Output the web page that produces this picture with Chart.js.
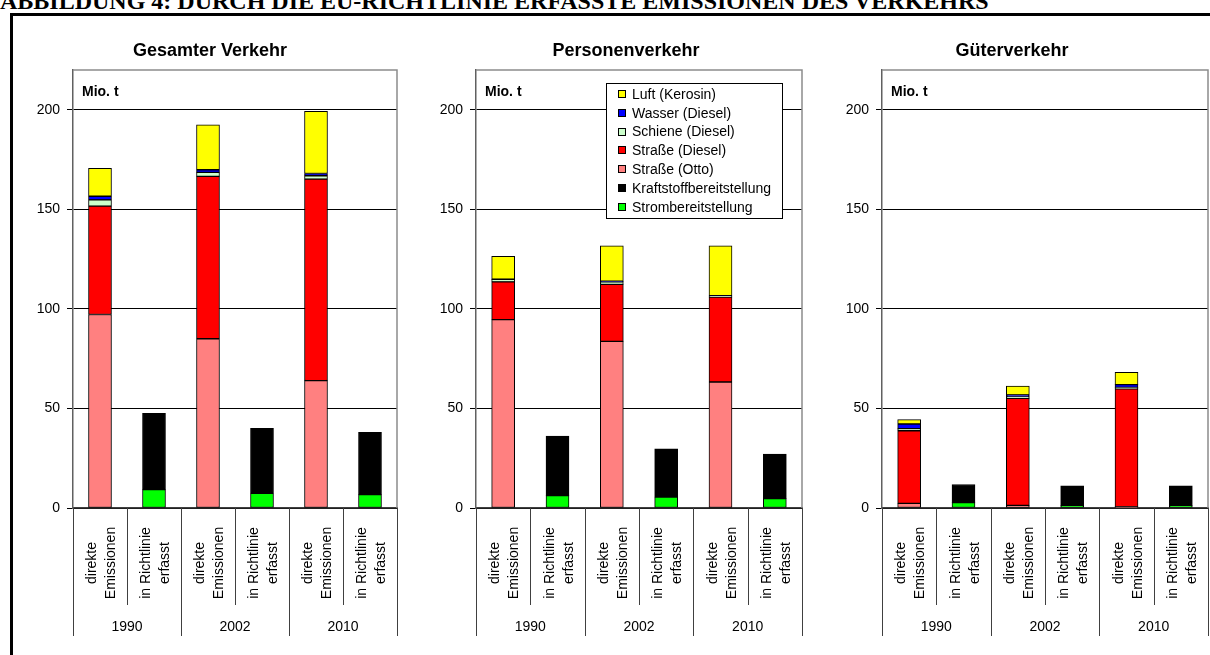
<!DOCTYPE html>
<html lang="de">
<head>
<meta charset="utf-8">
<title>Durch die EU-Richtlinie erfasste Emissionen des Verkehrs</title>
<script src="https://cdn.jsdelivr.net/npm/chart.js@4.4.1/dist/chart.umd.min.js"></script>
<style>
	html, body { margin: 0; padding: 0; background: #fff; }
	body { width: 1210px; height: 655px; position: relative; overflow: hidden; }
	#heading { position: absolute; left: 0; top: -11px; font: bold 24px 'Liberation Serif', 'Times New Roman', serif; line-height: 24px; white-space: nowrap; }
	#frame { position: absolute; left: 10px; top: 13px; width: 1220px; height: 700px; border: 3px solid #000; box-sizing: border-box; }
	canvas { position: absolute; top: 0; }
</style>
</head>
<body>
<div id="heading">ABBILDUNG 4: DURCH DIE EU-RICHTLINIE ERFASSTE EMISSIONEN DES VERKEHRS</div>
<div id="frame"></div>
<canvas id="gesamt"></canvas>
<canvas id="personen"></canvas>
<canvas id="gueter"></canvas>
<script>
// ---------------- Daten ----------------
const years = ['1990', '2002', '2010'];
const kindLines = [['direkte', 'Emissionen'], ['in Richtlinie', 'erfasst']];
const categories = ['1990 direkte Emissionen', '1990 in Richtlinie erfasst', '2002 direkte Emissionen', '2002 in Richtlinie erfasst', '2010 direkte Emissionen', '2010 in Richtlinie erfasst'];
const yTicks = [0, 50, 100, 150, 200];
const unitLabel = 'Mio. t';

// Stapelreihenfolge von unten nach oben
const seriesLabels = ['Strombereitstellung', 'Kraftstoffbereitstellung', 'Straße (Otto)', 'Straße (Diesel)', 'Schiene (Diesel)', 'Wasser (Diesel)', 'Luft (Kerosin)'];
const seriesColors = ['#00ff00', '#000000', '#ff8080', '#ff0000', '#ccffcc', '#0000ff', '#ffff00'];

// Gesamter Verkehr
const gesamtStrom      = [null, 9.2, null, 7.4, null, 6.7];
const gesamtKraftstoff = [null, 38.4, null, 32.6, null, 31.3];
const gesamtOtto       = [97.2, null, 85.0, null, 64.0, null];
const gesamtDiesel     = [54.4, null, 81.6, null, 101.2, null];
const gesamtSchiene    = [3.2, null, 2.0, null, 1.7, null];
const gesamtWasser     = [1.8, null, 1.3, null, 1.1, null];
const gesamtLuft       = [14.0, null, 22.6, null, 31.3, null];

// Personenverkehr
const personenStrom      = [null, 6.2, null, 5.5, null, 4.7];
const personenKraftstoff = [null, 29.9, null, 24.2, null, 22.4];
const personenOtto       = [94.6, null, 83.7, null, 63.3, null];
const personenDiesel     = [19.0, null, 28.6, null, 42.6, null];
const personenSchiene    = [1.2, null, 1.3, null, 0.5, null];
const personenWasser     = [0.2, null, 0.3, null, 0.2, null];
const personenLuft       = [11.4, null, 17.8, null, 25.1, null];

// Güterverkehr
const gueterStrom      = [null, 2.7, null, 1.3, null, 1.3];
const gueterKraftstoff = [null, 9.1, null, 9.8, null, 9.8];
const gueterOtto       = [2.3, null, 1.3, null, 0.7, null];
const gueterDiesel     = [36.5, null, 53.8, null, 59.1, null];
const gueterSchiene    = [1.1, null, 0.7, null, 0.8, null];
const gueterWasser     = [2.3, null, 1.0, null, 1.4, null];
const gueterLuft       = [2.2, null, 4.4, null, 6.2, null];

// ---------------- Layout ----------------
const panels = [
	{ id: 'gesamt', title: 'Gesamter Verkehr', canvasLeft: 14, canvasWidth: 392, areaLeft: 73, areaRight: 397, titleX: 210, legend: false,
		values: [gesamtStrom, gesamtKraftstoff, gesamtOtto, gesamtDiesel, gesamtSchiene, gesamtWasser, gesamtLuft] },
	{ id: 'personen', title: 'Personenverkehr', canvasLeft: 412, canvasWidth: 400, areaLeft: 476, areaRight: 802, titleX: 626, legend: true,
		values: [personenStrom, personenKraftstoff, personenOtto, personenDiesel, personenSchiene, personenWasser, personenLuft] },
	{ id: 'gueter', title: 'Güterverkehr', canvasLeft: 818, canvasWidth: 392, areaLeft: 882, areaRight: 1208, titleX: 1012, legend: false,
		values: [gueterStrom, gueterKraftstoff, gueterOtto, gueterDiesel, gueterSchiene, gueterWasser, gueterLuft] }
];

const FONT = '"Liberation Sans", Arial, sans-serif';
const AXIS_W = 59;
const AREA_TOP = 70;
const AREA_BOTTOM = 508;
const CANVAS_H = 655;

Chart.defaults.font.family = FONT;

// Titel, Rahmen, Achsenbeschriftung in zwei Ebenen, Legende
const panelDecor = {
	id: 'panelDecor',
	afterDraw(chart, args, opts) {
		const { ctx, chartArea: a } = chart;
		const x = chart.scales.x;
		ctx.save();

		// Rahmen oben und rechts
		ctx.strokeStyle = '#8c8c8c';
		ctx.lineWidth = 1.5;
		ctx.beginPath();
		ctx.moveTo(a.left, a.top);
		ctx.lineTo(a.right, a.top);
		ctx.lineTo(a.right, a.bottom);
		ctx.stroke();

		// Überschrift
		ctx.fillStyle = '#000';
		ctx.font = 'bold 18px ' + FONT;
		ctx.textAlign = 'center';
		ctx.textBaseline = 'alphabetic';
		ctx.fillText(opts.title, opts.titleX, 56);

		// Einheit
		ctx.font = 'bold 14px ' + FONT;
		ctx.textAlign = 'left';
		ctx.fillText(unitLabel, a.left + 9, a.top + 26);

		// Kategorien
		const step = x.getPixelForValue(1) - x.getPixelForValue(0);
		ctx.font = '14px ' + FONT;
		ctx.textAlign = 'center';
		categories.forEach((c, i) => {
			const cx = x.getPixelForValue(i);
			const lines = kindLines[i % 2];
			ctx.save();
			ctx.translate(cx, a.bottom + 55);
			ctx.rotate(-Math.PI / 2);
			ctx.fillText(lines[0], 0, -4);
			ctx.fillText(lines[1], 0, 15);
			ctx.restore();
		});

		// Trennlinien
		ctx.strokeStyle = '#404040';
		ctx.lineWidth = 1;
		for (let i = 0; i <= categories.length; i++) {
			const bx = Math.round(x.getPixelForValue(0) - step / 2 + i * step) + 0.5;
			ctx.beginPath();
			ctx.moveTo(bx, a.bottom);
			ctx.lineTo(bx, i % 2 === 0 ? 636 : 605);
			ctx.stroke();
		}

		// Jahre
		years.forEach((y, g) => {
			const gx = (x.getPixelForValue(2 * g) + x.getPixelForValue(2 * g + 1)) / 2;
			ctx.fillText(y, gx, 631);
		});

		// Legende
		if (opts.legend) {
			const lx = a.left + 130, ly = a.top + 13, lw = 176, lh = 135;
			ctx.fillStyle = '#fff';
			ctx.fillRect(lx, ly, lw, lh);
			ctx.strokeStyle = '#000';
			ctx.lineWidth = 1;
			ctx.strokeRect(lx + 0.5, ly + 0.5, lw, lh);
			ctx.font = '14px ' + FONT;
			ctx.textAlign = 'left';
			ctx.textBaseline = 'middle';
			const ds = chart.data.datasets.slice().reverse();
			ds.forEach((d, k) => {
				const ry = ly + 11 + k * 18.8;
				ctx.fillStyle = d.backgroundColor;
				ctx.fillRect(lx + 12, Math.round(ry - 4), 8, 8);
				ctx.strokeStyle = '#000';
				ctx.strokeRect(lx + 12.5, Math.round(ry - 4) + 0.5, 7, 7);
				ctx.fillStyle = '#000';
				ctx.fillText(d.label, lx + 26, ry + 1);
			});
		}
		ctx.restore();
	}
};

function buildChart(panel) {
	const canvas = document.getElementById(panel.id);
	canvas.width = panel.canvasWidth;
	canvas.height = CANVAS_H;
	canvas.style.left = panel.canvasLeft + 'px';

	return new Chart(canvas, {
		type: 'bar',
		data: {
			labels: categories,
			datasets: seriesLabels.map((label, k) => ({
				label: label,
				data: panel.values[k],
				backgroundColor: seriesColors[k],
				borderColor: '#000',
				borderWidth: 1,
				borderSkipped: false,
				barThickness: 23
			}))
		},
		options: {
			responsive: false,
			animation: false,
			devicePixelRatio: 1,
			layout: {
				padding: {
					left: panel.areaLeft - panel.canvasLeft - AXIS_W,
					right: panel.canvasLeft + panel.canvasWidth - panel.areaRight,
					top: AREA_TOP,
					bottom: CANVAS_H - AREA_BOTTOM
				}
			},
			plugins: {
				legend: { display: false },
				tooltip: { enabled: false },
				panelDecor: { title: panel.title, titleX: panel.titleX - panel.canvasLeft, legend: panel.legend }
			},
			scales: {
				x: {
					stacked: true,
					offset: true,
					grid: { display: false },
					border: { display: true, color: '#404040', width: 1.5 },
					ticks: { display: false },
					afterFit: (scale) => { scale.height = 0; }
				},
				y: {
					stacked: true,
					min: 0,
					max: 220,
					afterBuildTicks: (scale) => { scale.ticks = yTicks.map(v => ({ value: v })); },
					afterFit: (scale) => { scale.width = AXIS_W; },
					grid: { color: '#000', lineWidth: 1, tickLength: 6, drawTicks: true },
					border: { display: true, color: '#606060', width: 1.5 },
					ticks: { color: '#000', padding: 7, font: { size: 14 } }
				}
			}
		},
		plugins: [panelDecor]
	});
}

panels.forEach(buildChart);
</script>
</body>
</html>
